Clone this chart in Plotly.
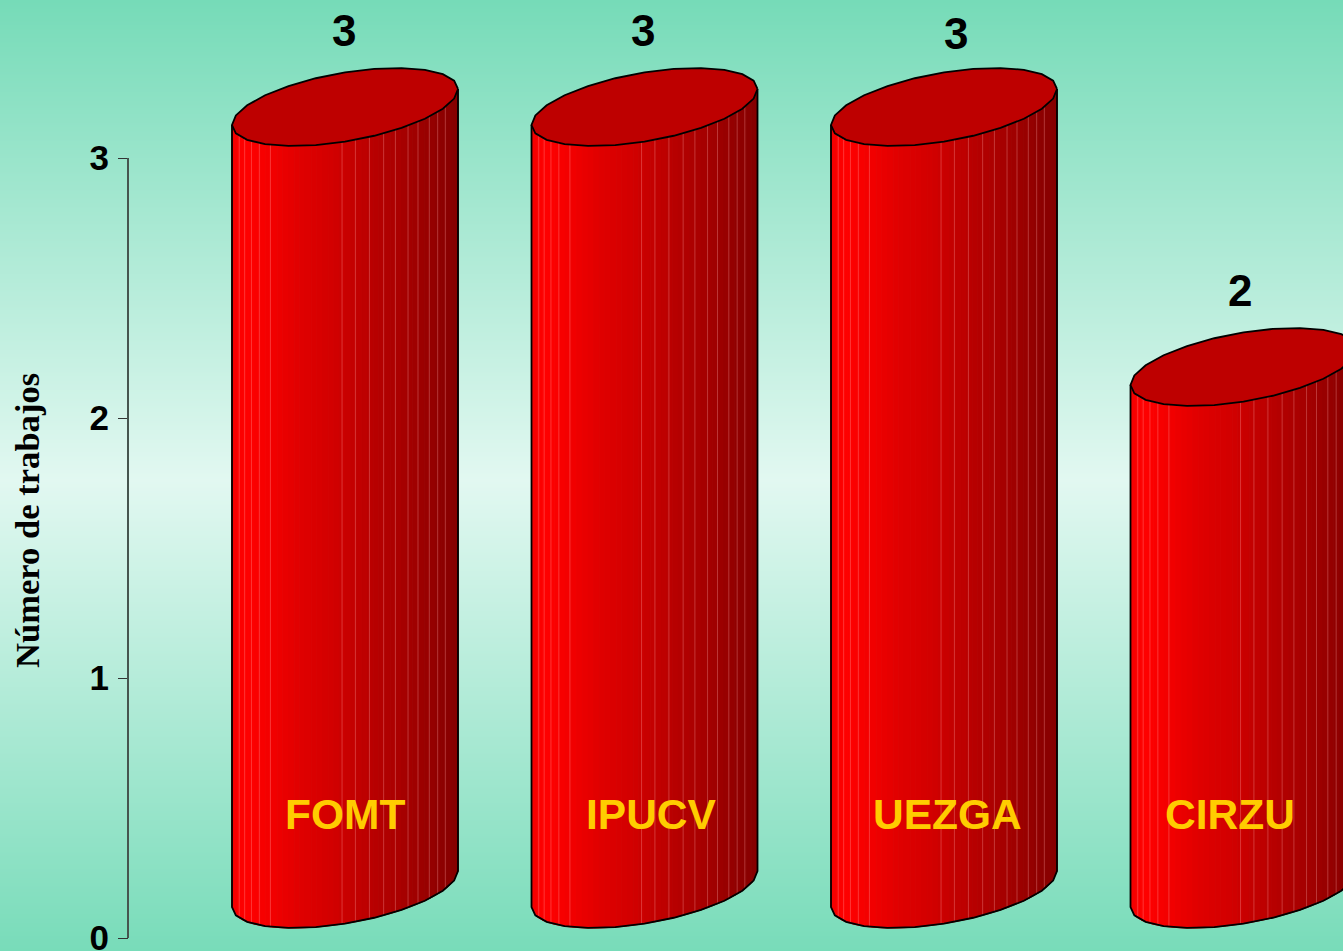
import numpy as np
import plotly.graph_objects as go

# ---- data ----
categories = ["FOMT", "IPUCV", "UEZGA", "CIRZU"]
values = [3, 3, 3, 2]
y_ticks = [0, 1, 2, 3]
y_title = "Número de trabajos"

# ---- layout constants ----
W, H = 1343, 951
PX_X = 299.5            # pixels per category step
PX_Y = 260.0            # pixels per unit
X0_PX, Y0_PX = 345.0, 938.0
x_range = [-X0_PX / PX_X, (W - X0_PX) / PX_X]
y_range = [(Y0_PX - H) / PX_Y, Y0_PX / PX_Y]

A = 113.0 / PX_X        # ellipse half-width
B = 39.0 / PX_Y         # ellipse half-height
PHI = np.radians(62.5)  # tilt phase
LIFT = 49.0 / PX_Y      # centre of the base above zero
TOP_LIFT = 51.0 / PX_Y  # centre of the cap above the value


def rim(t):
    return A * np.cos(t), B * np.cos(t - PHI)


def shade(u):
    stops_u = [0.0, 0.03, 0.07, 0.16, 0.30, 0.45, 0.55, 0.70, 0.85, 0.95, 1.0]
    stops_r = [240, 252, 255, 245, 225, 210, 195, 175, 155, 140, 132]
    return f"rgb({int(np.interp(u, stops_u, stops_r))},0,0)"


def lower_y(dx):
    t = 2 * np.pi - np.arccos(np.clip(dx / A, -1, 1))
    return B * np.cos(t - PHI)


fig = go.Figure()

# background gradient
grad_y = np.linspace(y_range[0], y_range[1], 120)
mid = (Y0_PX - 480) / PX_Y
half = 480 / PX_Y
grad_z = [[min(abs(v - mid) / half, 1)] * 2 for v in grad_y]
fig.add_trace(go.Heatmap(
    x=x_range, y=grad_y, z=grad_z, zmin=0, zmax=1, zsmooth="best", showscale=False,
    hoverinfo="skip",
    colorscale=[[0, "#E2F8F1"], [1, "#76DBB8"]],
))

N = 40
highlight_u = [0.032, 0.056, 0.086, 0.121, 0.17, 0.487, 0.546, 0.608, 0.671, 0.723, 0.779, 0.823, 0.873, 0.91, 0.944]
for i, val in enumerate(values):
    base = LIFT
    top = val + TOP_LIFT
    edges = np.linspace(-A, A, N + 1)
    # body strips
    for k in range(N):
        l, r = edges[k], edges[k + 1]
        c = shade((k + 0.5) / N)
        fig.add_trace(go.Scatter(
            x=[i + l, i + r, i + r, i + l, i + l],
            y=[base + lower_y(l), base + lower_y(r), top + lower_y(r), top + lower_y(l), base + lower_y(l)],
            mode="lines", fill="toself", fillcolor=c,
            line=dict(width=1, color=c), hoverinfo="skip", showlegend=False,
        ))
    # thin facet lines
    hx, hy = [], []
    for u in highlight_u:
        dx = -A + 2 * A * u
        hx += [i + dx, i + dx, None]
        hy += [base + lower_y(dx), top + lower_y(dx), None]
    fig.add_trace(go.Scatter(x=hx, y=hy, mode="lines", hoverinfo="skip", showlegend=False,
                             line=dict(width=0.8, color="rgba(255,170,170,0.4)")))
    # silhouette of body
    t_low = np.linspace(np.pi, 2 * np.pi, 13)
    dx, dy = rim(t_low)
    sx = np.concatenate([[i - A], i + dx, [i + A]])
    sy = np.concatenate([[top + rim(np.pi)[1]], base + dy, [top + rim(0)[1]]])
    fig.add_trace(go.Scatter(x=sx, y=sy, mode="lines", hoverinfo="skip", showlegend=False,
                             line=dict(width=1.8, color="#000")))
    # top cap
    t_all = np.linspace(0, 2 * np.pi, 25)
    dx, dy = rim(t_all)
    fig.add_trace(go.Scatter(x=i + dx, y=top + dy, mode="lines", fill="toself", fillcolor="#BE0000",
                             hoverinfo="skip", showlegend=False, line=dict(width=1.8, color="#000")))

# value labels and category labels
value_shift = [(-1, 1), (-1.5, 1), (12, -2), (-3.5, 1)]
label_shift = [-0.5, 6.5, 3, -14]
annotations = []
for i, (c, v) in enumerate(zip(categories, values)):
    annotations.append(dict(x=i, y=v + 0.488, text=f"<b>{v}</b>", showarrow=False, xref="x", yref="y",
                            xshift=value_shift[i][0], yshift=value_shift[i][1],
                            font=dict(family="Liberation Sans", size=44, color="#000")))
    annotations.append(dict(x=i, y=0.473, text=f"<b>{c}</b>", showarrow=False, xref="x", yref="y",
                            xshift=label_shift[i], yshift=1,
                            font=dict(family="Liberation Sans", size=42.5, color="#FFCC00")))
annotations.append(dict(x=27 / W, y=1 - 521 / H, text=f"<b>{y_title}</b>", textangle=-90, showarrow=False,
                        xref="paper", yref="paper", xanchor="center", yanchor="middle",
                        font=dict(family="Liberation Serif", size=34.6, color="#000")))

fig.update_layout(
    width=W, height=H, margin=dict(l=0, r=0, t=0, b=0), showlegend=False,
    paper_bgcolor="#BFEFDF", plot_bgcolor="rgba(0,0,0,0)",
    xaxis=dict(range=x_range, visible=False, fixedrange=True, automargin=False),
    yaxis=dict(range=y_range, anchor="free", position=128 / W, tickmode="array", tickvals=y_ticks,
               ticktext=[f"<b>{v}</b>" for v in y_ticks], ticks="outside", ticklen=10, tickwidth=1.3,
               tickcolor="#333", showline=False, showgrid=False, zeroline=False, fixedrange=True,
               automargin=False, ticklabelstandoff=2, ticklabeloverflow="allow",
               tickfont=dict(family="Liberation Sans", size=35, color="#000")),
    annotations=annotations,
    shapes=[dict(type="line", xref="paper", yref="y", x0=128 / W, x1=128 / W, y0=0, y1=max(y_ticks),
                 line=dict(color="#46554F", width=2))],
)
fig.write_html("out.html", config={"displayModeBar": False},
               post_script="document.body.style.margin='0';document.body.style.overflow='hidden';")
